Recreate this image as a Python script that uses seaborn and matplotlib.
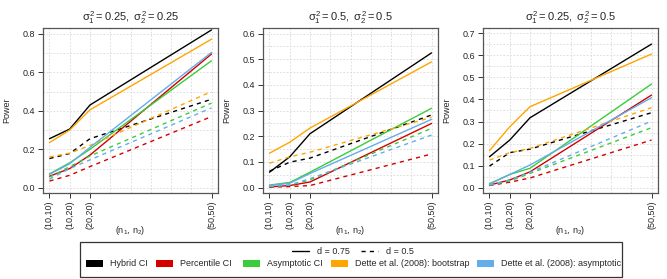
import numpy as np
import pandas as pd
import matplotlib
matplotlib.use("Agg")
import matplotlib.pyplot as plt
import seaborn as sns
from matplotlib.patches import Patch, Rectangle
from matplotlib.lines import Line2D

# Data
methods = ["Hybrid CI", "Percentile CI", "Asymptotic CI",
           "Dette et al. (2008): bootstrap", "Dette et al. (2008): asymptotic"]
colors = ["#000000", "#D40000", "#3ACC3A", "#FFA500", "#63ADEB"]
size_labels = ["(10,10)", "(10,20)", "(20,20)", "(50,50)"]
total_n = [20, 30, 40, 100]
titles = [r"$\sigma_1^2 = 0.25,\ \sigma_2^2 = 0.25$",
          r"$\sigma_1^2 = 0.5,\ \sigma_2^2 = 0.5$",
          r"$\sigma_1^2 = 0.25,\ \sigma_2^2 = 0.5$"]

# panel 1
p1_d075 = {
    "Hybrid CI": [0.255, 0.305, 0.43, 0.82],
    "Percentile CI": [0.06, 0.10, 0.17, 0.695],
    "Asymptotic CI": [0.072, 0.13, 0.20, 0.66],
    "Dette et al. (2008): bootstrap": [0.235, 0.30, 0.405, 0.772],
    "Dette et al. (2008): asymptotic": [0.07, 0.125, 0.21, 0.703],
}
p1_d05 = {
    "Hybrid CI": [0.152, 0.178, 0.255, 0.46],
    "Percentile CI": [0.035, 0.065, 0.11, 0.37],
    "Asymptotic CI": [0.055, 0.11, 0.165, 0.44],
    "Dette et al. (2008): bootstrap": [0.16, 0.18, 0.22, 0.50],
    "Dette et al. (2008): asymptotic": [0.045, 0.10, 0.145, 0.415],
}
# panel 2
p2_d075 = {
    "Hybrid CI": [0.06, 0.12, 0.21, 0.525],
    "Percentile CI": [0.003, 0.008, 0.022, 0.25],
    "Asymptotic CI": [0.01, 0.02, 0.06, 0.309],
    "Dette et al. (2008): bootstrap": [0.134, 0.177, 0.232, 0.49],
    "Dette et al. (2008): asymptotic": [0.008, 0.017, 0.055, 0.266],
}
p2_d05 = {
    "Hybrid CI": [0.064, 0.099, 0.115, 0.283],
    "Percentile CI": [0.002, 0.004, 0.008, 0.131],
    "Asymptotic CI": [0.005, 0.01, 0.03, 0.231],
    "Dette et al. (2008): bootstrap": [0.095, 0.12, 0.138, 0.274],
    "Dette et al. (2008): asymptotic": [0.004, 0.01, 0.035, 0.205],
}
# panel 3
p3_d075 = {
    "Hybrid CI": [0.14, 0.216, 0.317, 0.651],
    "Percentile CI": [0.012, 0.035, 0.072, 0.42],
    "Asymptotic CI": [0.018, 0.06, 0.088, 0.47],
    "Dette et al. (2008): bootstrap": [0.168, 0.276, 0.367, 0.606],
    "Dette et al. (2008): asymptotic": [0.016, 0.06, 0.103, 0.408],
}
p3_d05 = {
    "Hybrid CI": [0.098, 0.159, 0.175, 0.34],
    "Percentile CI": [0.01, 0.025, 0.044, 0.216],
    "Asymptotic CI": [0.012, 0.03, 0.065, 0.272],
    "Dette et al. (2008): bootstrap": [0.125, 0.159, 0.178, 0.363],
    "Dette et al. (2008): asymptotic": [0.012, 0.035, 0.07, 0.302],
}

panels = [(p1_d075, p1_d05), (p2_d075, p2_d05), (p3_d075, p3_d05)]
yticks = [np.arange(0, 0.81, 0.2), np.arange(0, 0.61, 0.1), np.arange(0, 0.71, 0.1)]
ygrid_step = [0.1, 0.05, 0.05]
ylims = [(-0.027, 0.83), (-0.021, 0.622), (-0.024, 0.724)]
lefts = [43, 263, 483]

sns.set_style("white")
plt.rcParams["font.family"] = ["Liberation Sans", "DejaVu Sans"]
plt.rcParams["mathtext.fontset"] = "custom"
plt.rcParams["mathtext.rm"] = "Liberation Sans"
plt.rcParams["mathtext.it"] = "Liberation Sans"
plt.rcParams["mathtext.bf"] = "Liberation Sans:bold"

W, H = 667, 279
fig = plt.figure(figsize=(W / 100, H / 100), dpi=100)

palette = dict(zip(methods, colors))

for i, (d075, d05) in enumerate(panels):
    ax = fig.add_axes([lefts[i] / W, (H - 193) / H, 175 / W, 165 / H])
    rows = []
    for d, tbl in [("0.75", d075), ("0.5", d05)]:
        for m in methods:
            for n, v in zip(total_n, tbl[m]):
                rows.append({"n": n, "power": v, "method": m, "d": d})
    df = pd.DataFrame(rows)

    # grid
    for gx in range(20, 101, 10):
        ax.axvline(gx, color="#d8d8d8", lw=0.6, ls=(0, (2, 2)), zorder=0)
    for gy in np.arange(0, ylims[i][1], ygrid_step[i]):
        ax.axhline(gy, color="#d8d8d8", lw=0.6, ls=(0, (2, 2)), zorder=0)

    sns.lineplot(data=df, x="n", y="power", hue="method", style="d",
                 hue_order=methods, palette=palette, style_order=["0.75", "0.5"],
                 dashes={"0.75": "", "0.5": (3, 3)}, linewidth=1.0,
                 legend=False, ax=ax)

    ax.set_xlim(16.8, 103.2)
    ax.set_ylim(*ylims[i])
    ax.set_xticks(total_n)
    ax.set_xticklabels(size_labels, rotation=90, fontsize=6.5)
    ax.set_yticks(yticks[i])
    ax.set_yticklabels([f"{t:.1f}" for t in yticks[i]], fontsize=6.5)
    ax.tick_params(direction="out", length=3.5, width=0.7, color="#333333",
                   pad=2, left=True, bottom=True)
    for s in ax.spines.values():
        s.set_color("#555555")
        s.set_linewidth(0.9)
    ax.set_xlabel(r"$(\mathrm{n}_1,\,\mathrm{n}_2)$", fontsize=6.5)
    ax.xaxis.set_label_coords(0.5, -0.19)
    ax.set_ylabel("Power", fontsize=6.5)
    ax.yaxis.set_label_coords(-0.18, 0.5)
    ax.set_title(titles[i], fontsize=8, pad=5)

# legend box
fig.patches.append(Rectangle((80 / W, 2 / H), 542 / W, 35 / H, transform=fig.transFigure,
                             fill=False, edgecolor="#333333", linewidth=0.9))

style_handles = [Line2D([], [], color="black", lw=1.0),
                 Line2D([], [], color="black", lw=1.0, ls=(0, (3, 3)))]
fig.legend(style_handles, ["d = 0.75", "d = 0.5"], loc="center",
           bbox_to_anchor=(353 / W, (H - 252) / H), ncol=2, frameon=False,
           fontsize=6.5, handlelength=1.8, handletextpad=0.9, columnspacing=1.3,
           borderpad=0, borderaxespad=0)

patch_x = [86, 156, 243, 331, 477]
for m, c, px in zip(methods, colors, patch_x):
    fig.legend([Patch(facecolor=c, edgecolor="none")], [m], loc="center left",
               bbox_to_anchor=(px / W, (H - 264) / H), frameon=False, fontsize=6.5,
               handlelength=1.9, handleheight=0.9, handletextpad=0.8,
               borderpad=0, borderaxespad=0)

fig.savefig("out.png", dpi=100)
